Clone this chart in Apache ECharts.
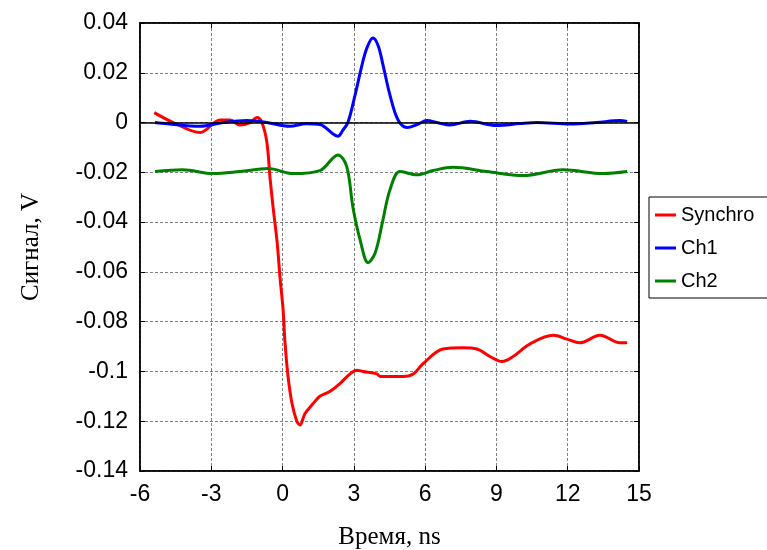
<!DOCTYPE html>
<html>
<head>
<meta charset="utf-8">
<script src="https://cdn.jsdelivr.net/npm/echarts@6/dist/echarts.min.js"></script>
<style>html,body{margin:0;padding:0;background:#fff;}#c{width:767px;height:550px;}</style>
</head>
<body>
<div id="c"></div>
<script>
var xTicks = [-6, -3, 0, 3, 6, 9, 12, 15];
var yTicks = [-0.14, -0.12, -0.1, -0.08, -0.06, -0.04, -0.02, 0, 0.02, 0.04];
var seriesNames = ['Synchro', 'Ch1', 'Ch2'];

var synchroX = [-5.4, -4.6, -3.47, -2.63, -2.2, -1.8, -1.37, -1.08, -0.87, -0.66, -0.53, -0.4, -0.23, -0.11, 0.02, 0.1, 0.23, 0.4, 0.6, 0.73, 0.94, 1.28, 1.57, 2.0, 2.4, 2.84, 3.13, 3.38, 3.97, 4.1, 5.07, 5.5, 5.9, 6.75, 7.6, 8.18, 8.73, 9.23, 9.7, 10.4, 11.4, 11.97, 12.5, 13.36, 14.2, 14.5];
var synchroY = [0.004, 0.0, -0.004, 0.001, 0.001, -0.001, 0.0, 0.002, 0.0, -0.008, -0.022, -0.034, -0.048, -0.062, -0.075, -0.088, -0.102, -0.113, -0.120, -0.1215, -0.117, -0.113, -0.110, -0.108, -0.105, -0.101, -0.0995, -0.1, -0.101, -0.102, -0.102, -0.101, -0.097, -0.091, -0.0905, -0.091, -0.094, -0.096, -0.094, -0.089, -0.0855, -0.087, -0.0885, -0.0855, -0.0885, -0.0885];

var ch1X = [-5.37, -4.86, -3.47, -2.5, -1.5, -0.66, 0.3, 1.0, 1.57, 2.33, 2.54, 2.75, 3.05, 3.34, 3.55, 3.8, 4.02, 4.23, 4.52, 4.86, 5.24, 5.66, 6.08, 6.5, 7.05, 7.9, 9.0, 10.0, 10.7, 12.1, 13.2, 14.2, 14.5];
var ch1Y = [0.0, -0.0005, -0.0015, 0.0, 0.0008, 0.0, -0.0015, -0.0005, -0.0008, -0.0055, -0.003, 0.0, 0.011, 0.023, 0.030, 0.034, 0.031, 0.023, 0.011, 0.001, -0.002, -0.0008, 0.0008, 0.0, -0.001, 0.0005, -0.0012, -0.0004, 0.0, -0.0006, 0.0, 0.0008, 0.0004];

var ch2X = [-5.37, -4.2, -2.93, -1.8, -0.6, 0.44, 1.57, 2.33, 2.7, 2.96, 3.26, 3.6, 3.9, 4.2, 4.52, 4.94, 5.66, 6.33, 7.17, 8.6, 10.12, 11.8, 13.5, 14.5];
var ch2Y = [-0.0197, -0.019, -0.0205, -0.0197, -0.0185, -0.0205, -0.0193, -0.013, -0.0177, -0.034, -0.047, -0.0563, -0.0523, -0.0402, -0.027, -0.0197, -0.021, -0.0193, -0.018, -0.0197, -0.0213, -0.019, -0.0205, -0.0197];

function zip(xs, ys) { return xs.map(function (x, i) { return [x, ys[i]]; }); }
var colors = ['#ff0000', '#0000ff', '#008000'];
var datasets = [zip(synchroX, synchroY), zip(ch1X, ch1Y), zip(ch2X, ch2Y)];

var chart = echarts.init(document.getElementById('c'), null, {renderer: 'canvas'});
var tickFont = {fontFamily: 'Liberation Sans, Arial', fontSize: 23, color: '#000'};
function fmt(v) { return parseFloat(v.toFixed(2)).toString(); }

var series = seriesNames.map(function (n, i) {
  return {
    name: n, type: 'line', data: datasets[i], showSymbol: false, smooth: 0.35,
    lineStyle: {color: colors[i], width: 3}, itemStyle: {color: colors[i]},
    xAxisIndex: 0, yAxisIndex: 0, z: 3 + i, animation: false
  };
});
series.push({
  type: 'line', data: [], xAxisIndex: 0, yAxisIndex: 0, silent: true, z: 10,
  markLine: {silent: true, symbol: 'none', label: {show: false}, animation: false,
    lineStyle: {color: '#000', type: 'solid', width: 1.5}, data: [{yAxis: 0}]}
});

chart.setOption({
  animation: false,
  backgroundColor: '#fff',
  grid: {left: 140, right: 128, top: 23, bottom: 79, outerBoundsMode: 'none', containLabel: false,
    show: true, borderColor: '#000', borderWidth: 1.5, backgroundColor: '#fff'},
  legend: {
    data: seriesNames, orient: 'vertical', left: 649, top: 197,
    icon: 'rect', itemWidth: 21, itemHeight: 3, itemGap: 13,
    padding: [8, 20, 7, 6], borderColor: '#000', borderWidth: 1, backgroundColor: '#fff',
    textStyle: {fontFamily: 'Liberation Sans, Arial', fontSize: 20, color: '#000', padding: [0, 0, 0, 0]}
  },
  xAxis: [{
    type: 'value', min: -6, max: 15, interval: 3, position: 'bottom',
    name: 'Время, ns', nameLocation: 'middle', nameGap: 54,
    nameTextStyle: {fontFamily: 'Liberation Serif, Times New Roman', fontSize: 25, color: '#000'},
    axisLine: {show: true, onZero: false, lineStyle: {color: '#000', width: 1.5}},
    axisTick: {show: true, inside: true, length: 5, lineStyle: {color: '#000'}},
    axisLabel: Object.assign({margin: 12, formatter: fmt}, tickFont),
    splitLine: {show: true, lineStyle: {color: '#808080', type: [3, 2], width: 1}}
  }, {
    type: 'value', min: -6, max: 15, interval: 3, position: 'top',
    axisLine: {show: true, onZero: false, lineStyle: {color: '#000', width: 1.5}},
    axisTick: {show: true, inside: true, length: 5, lineStyle: {color: '#000'}},
    axisLabel: {show: false}, splitLine: {show: false}
  }],
  yAxis: [{
    type: 'value', min: -0.14, max: 0.04, interval: 0.02, position: 'left',
    name: 'Сигнал, V', nameLocation: 'middle', nameGap: 96,
    nameTextStyle: {fontFamily: 'Liberation Serif, Times New Roman', fontSize: 25, color: '#000'},
    axisLine: {show: true, onZero: false, lineStyle: {color: '#000', width: 1.5}},
    axisTick: {show: true, inside: true, length: 5, lineStyle: {color: '#000'}},
    axisLabel: Object.assign({margin: 12, formatter: fmt}, tickFont),
    splitLine: {show: true, lineStyle: {color: '#808080', type: [3, 2], width: 1}}
  }, {
    type: 'value', min: -0.14, max: 0.04, interval: 0.02, position: 'right',
    axisLine: {show: true, onZero: false, lineStyle: {color: '#000', width: 1.5}},
    axisTick: {show: true, inside: true, length: 5, lineStyle: {color: '#000'}},
    axisLabel: {show: false}, splitLine: {show: false}
  }],
  series: series
});
</script>
</body>
</html>
